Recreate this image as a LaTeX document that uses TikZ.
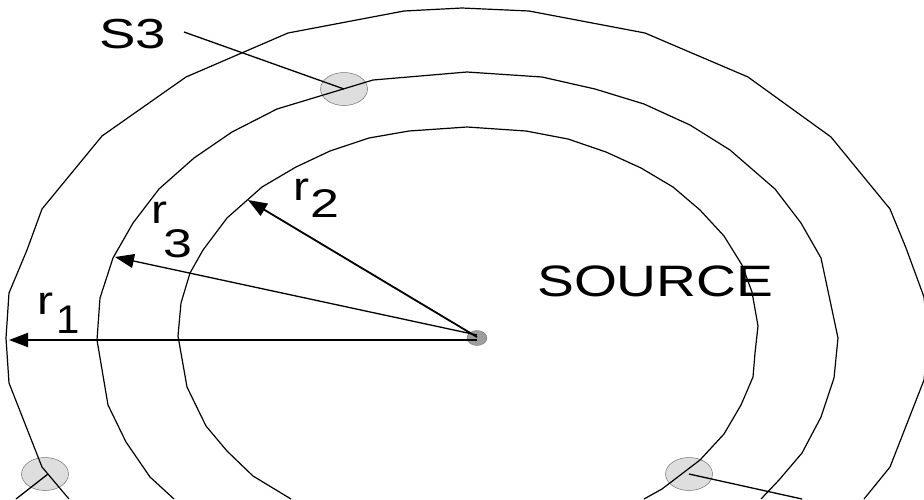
\documentclass[tikz,border=0pt]{standalone}
\usepackage{fontspec}
\setmainfont{Liberation Sans}
\usetikzlibrary{shapes.geometric,arrows.meta}
\tikzset{
  ring/.style={draw=black,line width=1.2pt,line join=round},
  station/.style={ellipse,draw=black!55,line width=0.5pt,fill=black!13!white,minimum width=47pt,minimum height=33pt,inner sep=0pt},
  srcdot/.style={ellipse,draw=black!55,line width=0.4pt,fill=black!38,minimum width=20pt,minimum height=15pt,inner sep=0pt},
  leader/.style={draw=black,line width=1.3pt},
  radius/.style={draw=black,-{Triangle[length=19pt,width=14pt]}},
  lbl/.style={inner sep=0pt,anchor=base west,text=black}
}
\newcommand{\bigtxt}[3]{\fontsize{#1}{#1}\selectfont\scalebox{#2}[1]{#3}}
\begin{document}
\begin{tikzpicture}[x=1pt,y=-1pt]
\clip (0,0) rectangle (924,499);
\fill[white] (0,0) rectangle (924,499);
% stations and source
\node[station] (s3) at (344,89) {};
\node[station] (s1) at (45,474) {};
\node[station] (s2) at (689,474) {};
\node[srcdot] (src) at (477,338) {};
% rings
\draw[ring] (69,499)--(42,467)--(9,383)--(6,338)--(9,293)--(27,250)--(42,209)--(102,136)--(186,77)--(288,33)--(404,11)--(462,8)--(529,11)--(645,33)--(748,77)--(831,137)--(890,209)--(906,248)--(924,297)--(928,338)--(924,380)--(890,467)--(864,499);
\draw[ring] (174,499)--(150,477)--(126,442)--(108,405)--(97,340)--(100,298)--(113,258)--(133,223)--(159,189)--(194,158)--(232,132)--(277,109)--(373,80)--(467,72)--(542,77)--(595,89)--(644,104)--(690,125)--(730,150)--(775,189)--(801,223)--(821,258)--(838,338)--(834,378)--(821,417)--(802,453)--(779,480)--(761,499);
\draw[ring] (291,499)--(253,476)--(227,451)--(206,426)--(187,387)--(178,336)--(181,303)--(190,273)--(203,250)--(227,218)--(262,187)--(296,167)--(330,151)--(369,138)--(409,131)--(467,127)--(526,131)--(568,139)--(606,152)--(641,168)--(673,187)--(700,210)--(724,236)--(742,265)--(752,292)--(758,326)--(755,353)--(753,377)--(741,405)--(724,434)--(700,460)--(662,489)--(644,499);
% free ends
\coordinate (s3end) at (184,32);
\coordinate (s1end) at (16,499);
\coordinate (s2end) at (802,499);
\coordinate (t1) at (9,340);
\coordinate (t3) at (115,257);
\coordinate (t2) at (248,200);
\coordinate (c1) at (477,340);
\coordinate (c2) at (477,337);
\coordinate (c3) at (477,335);
% leaders
\draw[leader] (s3.center) -- (s3end);
\draw[leader] (48,474) -- (s1end);
\draw[leader] (s2.center) -- (s2end);
% radii
\draw[radius,line width=2pt] (c1) -- (t1);
\draw[radius,line width=1.3pt] (c3) -- (t3);
\draw[radius,line width=1.8pt] (c2) -- (t2);
% labels
\node[lbl] (ls3) at (99,48) {\bigtxt{42}{1.3}{S3}};
\node[lbl] (lsrc) at (537,296) {\bigtxt{44}{1.255}{SOURCE}};
\node[lbl] (r1a) at (37,314) {\bigtxt{40}{1.2}{r}};
\node[lbl] (r1b) at (56,333) {\bigtxt{40}{1.05}{1}};
\node[lbl] (r2a) at (293,200) {\bigtxt{40}{1.2}{r}};
\node[lbl] (r2b) at (310,217) {\bigtxt{40}{1.3}{2}};
\node[lbl] (r3a) at (151,223) {\bigtxt{40}{1.2}{r}};
\node[lbl] (r3b) at (163,257) {\bigtxt{40}{1.3}{3}};
\end{tikzpicture}
\end{document}
